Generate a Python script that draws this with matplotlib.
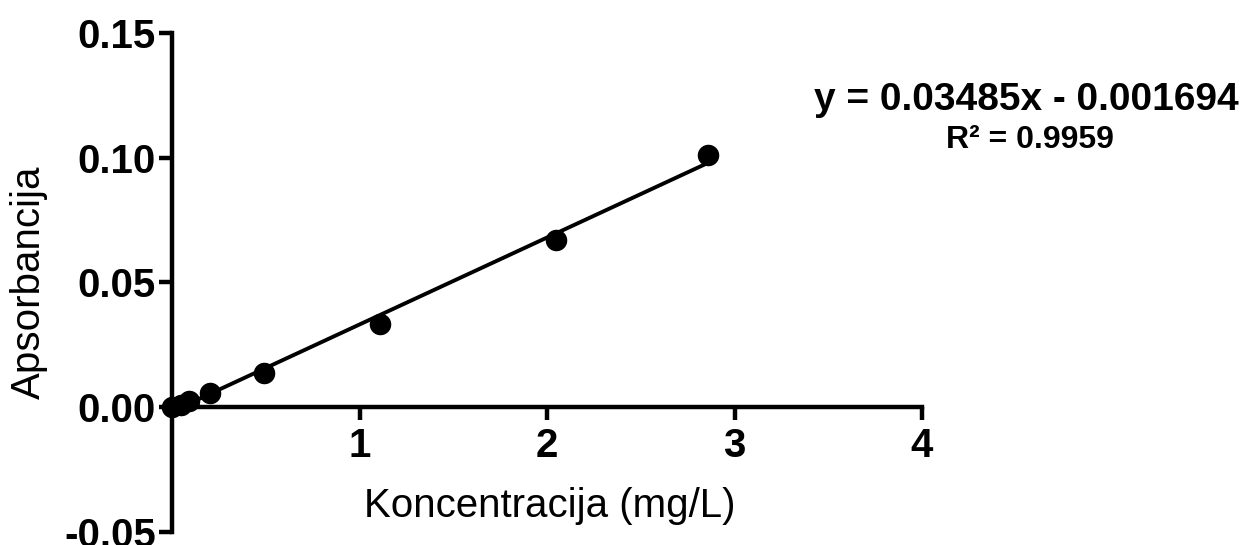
import numpy as np
import matplotlib.pyplot as plt

plt.rcParams['font.family'] = ['Liberation Sans', 'DejaVu Sans']

# podaci sa grafika
koncentracija = [0.0, 0.05, 0.09, 0.2, 0.49, 1.11, 2.05, 2.86]
apsorbancija = [0.0, 0.0008, 0.0025, 0.0057, 0.0137, 0.0335, 0.0672, 0.1012]
nagib = 0.03485
odsjecak = -0.001694
r2 = 0.9959

x_ticks = [1, 2, 3, 4]
y_ticks = [-0.05, 0.00, 0.05, 0.10, 0.15]

fig = plt.figure(figsize=(12.5, 5.45), dpi=100)
ax = fig.add_axes([0.1376, 0.0239, 0.6, 0.9156])

x_fit = np.array([min(koncentracija), max(koncentracija)])
ax.plot(x_fit, nagib * x_fit + odsjecak, color='black', lw=2.8, zorder=2)
ax.scatter(koncentracija, apsorbancija, s=210, color='black', zorder=3, clip_on=False)

ax.set_xlim(0, 4)
ax.set_ylim(-0.05, 0.15)
ax.spines['right'].set_visible(False)
ax.spines['top'].set_visible(False)
ax.spines['bottom'].set_position(('data', 0))
ax.spines['left'].set_linewidth(3.2)
ax.spines['bottom'].set_linewidth(3.2)
ax.spines['left'].set_capstyle('projecting')
ax.spines['bottom'].set_capstyle('projecting')

ax.set_xticks(x_ticks)
ax.set_xticklabels([str(t) for t in x_ticks], fontsize=29, fontweight='bold')
ax.set_yticks(y_ticks)
ax.set_yticklabels([f'{t:.2f}' for t in y_ticks], fontsize=29, fontweight='bold')
ax.tick_params(axis='both', direction='out', length=9.5, width=3.2)
ax.tick_params(axis='y', pad=2)
ax.tick_params(axis='x', pad=5)

ax.set_xlabel('Koncentracija (mg/L)', fontsize=29)
ax.xaxis.set_label_coords(0.504, 0.091)
ax.set_ylabel('Apsorbancija', fontsize=29)
ax.yaxis.set_label_coords(-0.166, 0.5)

fig.text(0.8208, 0.8165, f'y = {nagib}x - {abs(odsjecak)}', fontsize=28,
         fontweight='bold', ha='center', va='center')
fig.text(0.824, 0.743, f'R² = {r2}', fontsize=23, fontweight='bold',
         ha='center', va='center')

fig.savefig('out.png', dpi=100)
